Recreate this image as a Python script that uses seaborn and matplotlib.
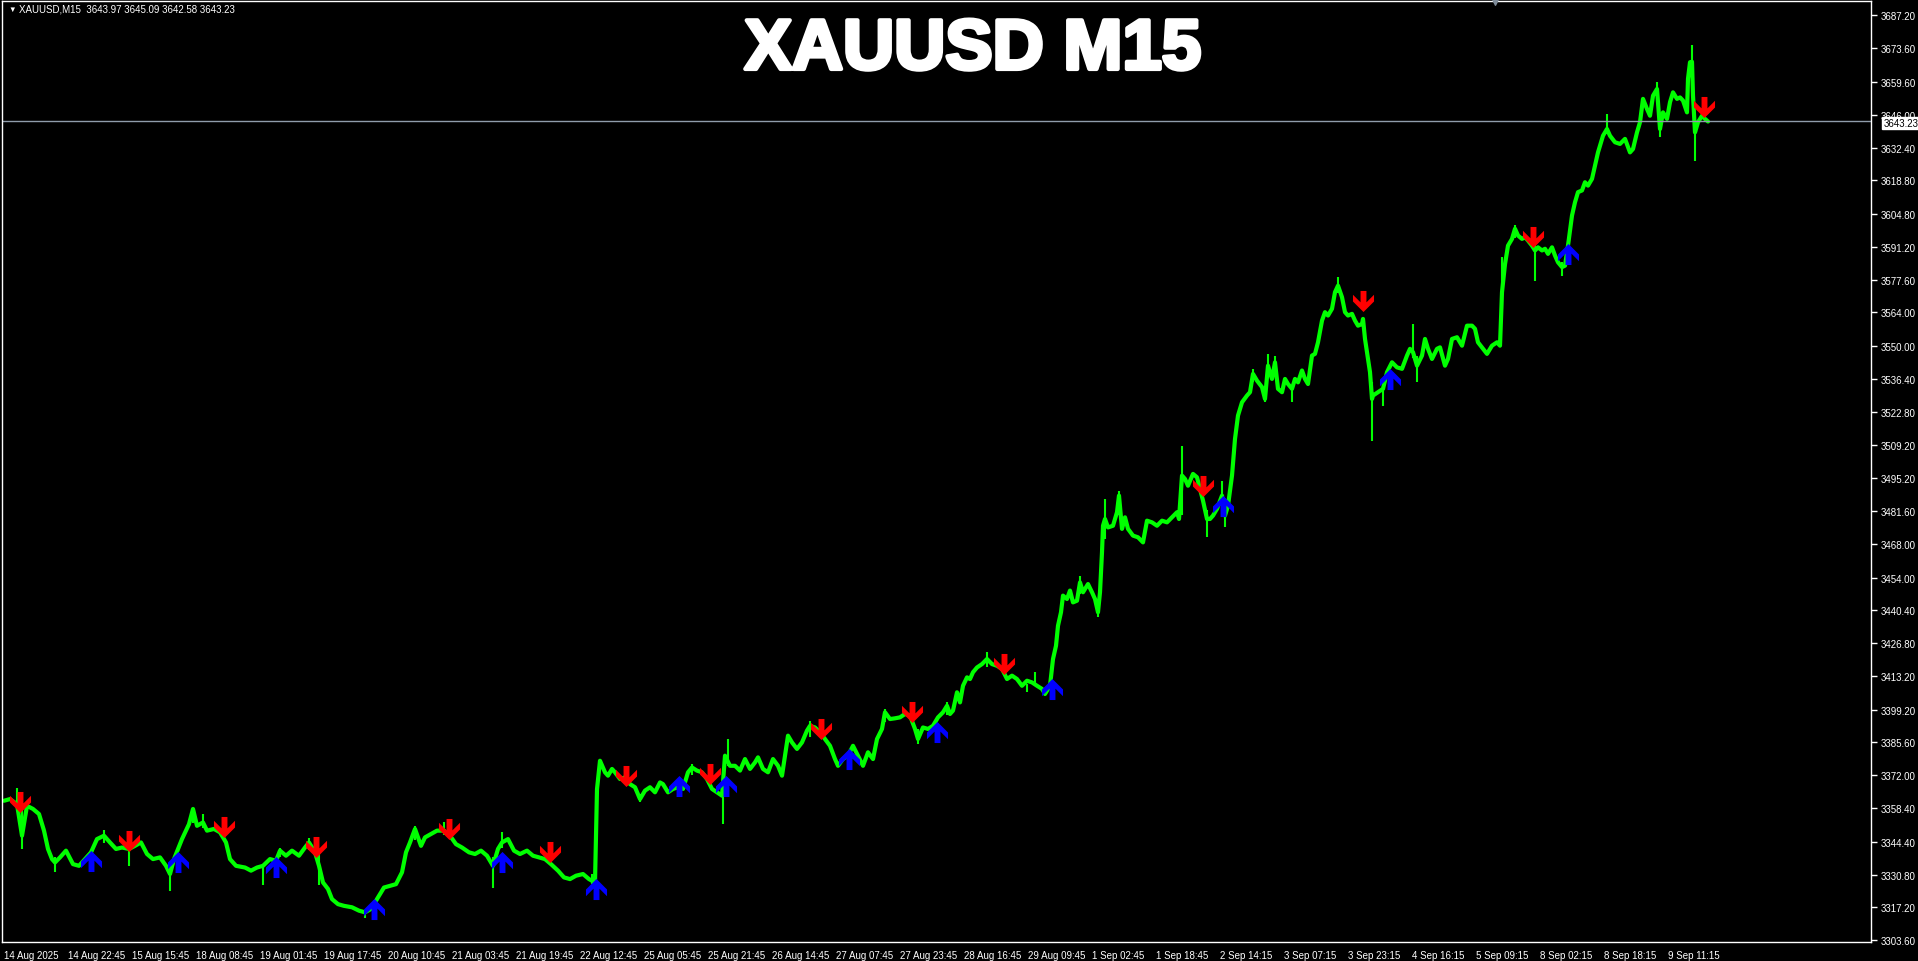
import matplotlib
matplotlib.use("Agg")
import matplotlib.pyplot as plt
import matplotlib.patheffects as pe
from matplotlib.path import Path
import seaborn as sns

# M15 bar number (counted from the left edge of the chart) and price
bars = [0, 6, 13, 18, 23, 29, 35, 40, 44, 48, 51, 56, 62, 69, 75, 81, 87, 93, 100, 106,
        112, 118, 125, 131, 137, 143, 149, 156, 162, 166, 170, 174, 178, 185, 189, 193, 199, 203, 210, 216,
        222, 226, 232, 241, 247, 253, 259, 266, 272, 276, 282, 288, 295, 301, 305, 311, 315, 319, 324, 328,
        334, 340, 348, 355, 361, 367, 373, 380, 386, 392, 398, 402, 406, 411, 417, 421, 427, 433, 440, 446,
        452, 458, 465, 471, 477, 483, 489, 494, 498, 504, 510, 516, 523, 529, 535, 541, 547, 554, 560, 566,
        572, 579, 585, 591, 593, 596, 601, 604, 608, 611, 616, 621, 626, 631, 636, 641, 646, 651, 656, 659,
        664, 669, 674, 679, 684, 688, 693, 698, 703, 708, 713, 718, 721, 726, 731, 736, 741, 746, 751, 754,
        759, 764, 769, 774, 778, 781, 784, 788, 793, 798, 803, 806, 811, 816, 821, 826, 831, 834, 839, 844,
        849, 854, 859, 864, 869, 873, 878, 881, 886, 891, 896, 901, 906, 911, 914, 919, 924, 929, 934, 939,
        943, 946, 949, 953, 956, 959, 963, 966, 969, 973, 978, 983, 988, 993, 998, 1003, 1008, 1013, 1018, 1023,
        1028, 1033, 1038, 1041, 1046, 1049, 1052, 1054, 1057, 1059, 1063, 1066, 1069, 1073, 1076, 1079, 1084, 1088, 1091, 1094,
        1096, 1098, 1099, 1101, 1104, 1109, 1113, 1115, 1118, 1121, 1124, 1129, 1134, 1139, 1143, 1148, 1153, 1158, 1163, 1168,
        1173, 1175, 1178, 1181, 1184, 1189, 1193, 1196, 1199, 1203, 1206, 1209, 1213, 1218, 1221, 1224, 1228, 1231, 1234, 1238,
        1243, 1246, 1249, 1253, 1258, 1261, 1264, 1268, 1271, 1274, 1278, 1281, 1284, 1288, 1291, 1294, 1298, 1301, 1304, 1308,
        1311, 1314, 1318, 1321, 1324, 1328, 1331, 1334, 1338, 1341, 1344, 1348, 1351, 1354, 1358, 1359, 1361, 1364, 1366, 1368,
        1369, 1374, 1379, 1383, 1388, 1393, 1398, 1403, 1406, 1409, 1413, 1418, 1421, 1424, 1428, 1433, 1436, 1441, 1444, 1448,
        1453, 1458, 1463, 1468, 1471, 1474, 1479, 1483, 1488, 1493, 1496, 1498, 1501, 1504, 1508, 1511, 1514, 1518, 1521, 1524,
        1528, 1531, 1534, 1538, 1541, 1544, 1548, 1551, 1554, 1558, 1561, 1564, 1568, 1571, 1574, 1578, 1581, 1584, 1588, 1591,
        1594, 1596, 1599, 1603, 1606, 1611, 1616, 1621, 1626, 1629, 1633, 1636, 1639, 1643, 1646, 1649, 1653, 1656, 1659, 1663,
        1666, 1669, 1673, 1676, 1679, 1683, 1684, 1686, 1688, 1689, 1691, 1694, 1698, 1701, 1704]
close = [3361.4, 3362.1, 3360.0, 3346.9, 3359.3, 3358.0, 3355.9, 3349.0, 3341.4, 3337.2, 3335.8, 3337.9, 3340.7, 3335.1, 3334.4, 3337.2, 3340.0, 3345.5, 3346.9, 3344.1,
         3341.4, 3342.0, 3341.4, 3342.7, 3344.1, 3339.3, 3337.2, 3337.9, 3334.4, 3331.0, 3337.2, 3341.4, 3345.5, 3351.7, 3358.0, 3351.0, 3352.4, 3349.0, 3349.7, 3348.3,
         3344.1, 3337.2, 3334.4, 3333.7, 3332.4, 3333.7, 3334.4, 3337.2, 3336.5, 3340.7, 3338.6, 3340.7, 3338.6, 3342.0, 3344.1, 3340.0, 3334.4, 3327.5, 3324.8, 3320.6,
         3318.5, 3317.8, 3317.2, 3315.8, 3315.1, 3316.5, 3320.6, 3325.4, 3326.1, 3326.8, 3331.7, 3340.0, 3344.1, 3349.7, 3342.7, 3346.2, 3347.6, 3349.0, 3349.0, 3346.9,
         3343.4, 3342.0, 3340.0, 3339.3, 3340.7, 3338.6, 3334.4, 3341.4, 3344.1, 3345.5, 3340.7, 3339.3, 3340.7, 3338.6, 3337.9, 3337.2, 3335.1, 3332.4, 3329.6, 3328.9,
         3330.3, 3331.0, 3328.9, 3327.5, 3366.2, 3378.0, 3373.2, 3371.8, 3374.6, 3373.2, 3370.4, 3371.1, 3368.3, 3367.0, 3362.1, 3365.6, 3367.0, 3364.9, 3369.0, 3368.3,
         3364.9, 3366.3, 3367.0, 3366.3, 3373.2, 3375.2, 3373.9, 3373.2, 3370.4, 3366.3, 3364.9, 3363.5, 3380.1, 3375.9, 3375.9, 3373.9, 3378.7, 3374.6, 3377.3, 3379.4,
         3374.6, 3373.2, 3378.7, 3375.9, 3371.8, 3380.1, 3388.4, 3385.6, 3382.9, 3385.6, 3390.5, 3392.5, 3391.8, 3389.8, 3387.0, 3384.2, 3378.7, 3375.9, 3378.7, 3380.1,
         3384.2, 3380.1, 3375.9, 3381.5, 3378.7, 3387.0, 3391.2, 3398.1, 3395.3, 3395.6, 3396.0, 3397.4, 3396.7, 3391.2, 3387.0, 3391.8, 3391.2, 3392.5, 3396.0, 3398.1,
         3400.8, 3397.4, 3398.8, 3406.4, 3402.2, 3409.1, 3412.6, 3411.9, 3414.7, 3416.7, 3418.1, 3420.2, 3418.1, 3417.4, 3416.1, 3411.9, 3413.3, 3411.9, 3409.1, 3411.2,
         3410.5, 3409.1, 3407.8, 3405.7, 3409.1, 3420.2, 3425.7, 3434.0, 3439.6, 3446.5, 3445.1, 3448.6, 3443.7, 3444.4, 3452.0, 3447.9, 3451.3, 3447.9, 3445.1, 3439.6,
         3447.9, 3464.5, 3475.5, 3478.3, 3474.8, 3475.5, 3481.1, 3488.0, 3474.2, 3479.0, 3474.2, 3471.4, 3470.7, 3468.6, 3477.6, 3476.9, 3475.5, 3477.6, 3476.9, 3479.0,
         3481.1, 3478.3, 3496.3, 3494.9, 3492.1, 3497.0, 3495.6, 3490.8, 3485.9, 3478.3, 3478.3, 3479.7, 3482.5, 3488.0, 3479.7, 3483.8, 3496.3, 3511.5, 3521.2, 3526.7,
         3529.5, 3530.9, 3538.5, 3535.7, 3533.0, 3528.1, 3541.9, 3536.4, 3543.3, 3532.3, 3530.9, 3536.4, 3534.3, 3532.3, 3536.4, 3535.0, 3539.9, 3536.4, 3534.3, 3546.1,
         3546.8, 3551.6, 3560.6, 3564.1, 3562.7, 3565.5, 3572.4, 3575.1, 3570.3, 3564.1, 3562.7, 3563.4, 3560.6, 3558.5, 3559.2, 3561.3, 3553.0, 3544.7, 3539.2, 3528.1,
         3529.5, 3530.9, 3532.3, 3539.2, 3543.3, 3541.2, 3540.6, 3546.1, 3548.9, 3547.5, 3541.9, 3546.1, 3553.0, 3548.9, 3544.7, 3548.9, 3549.5, 3541.9, 3544.7, 3553.0,
         3553.7, 3550.2, 3558.5, 3558.5, 3557.2, 3551.6, 3548.9, 3546.8, 3550.2, 3551.6, 3550.2, 3572.4, 3584.0, 3591.7, 3594.5, 3598.7, 3595.9, 3594.5, 3595.2, 3593.8,
         3591.7, 3589.7, 3591.0, 3589.7, 3590.4, 3588.3, 3591.0, 3587.6, 3584.8, 3582.8, 3583.4, 3591.7, 3604.2, 3609.7, 3613.9, 3614.6, 3618.0, 3616.6, 3619.4, 3624.9,
         3630.4, 3633.2, 3637.3, 3640.1, 3637.3, 3634.6, 3633.9, 3636.0, 3630.4, 3631.8, 3638.7, 3642.9, 3652.6, 3648.4, 3645.6, 3653.9, 3656.7, 3640.1, 3647.0, 3644.3,
         3651.2, 3655.3, 3652.6, 3653.2, 3651.9, 3647.0, 3660.9, 3667.8, 3668.0, 3653.9, 3638.7, 3642.9, 3645.6, 3644.3, 3643.2]

# single-bar spikes: bar number, high, low
wick_bars = [13, 18, 51, 100, 125, 166, 189, 199, 259, 276, 305, 315, 361, 411, 440, 489, 498, 588, 636,
             688, 719, 724, 806, 881, 914, 943, 983, 1023, 1031, 1076, 1094, 1101, 1115, 1178, 1203, 1218, 1221,
             1249, 1261, 1264, 1271, 1288, 1334, 1368, 1379, 1409, 1413, 1498, 1511, 1531, 1558,
             1603, 1653, 1656, 1688, 1691]
wick_high = [3366.5, 3358.0, 3338.0, 3349.4, 3342.0, 3334.0, 3358.6, 3355.9, 3335.0, 3342.0, 3345.8, 3340.0, 3316.0, 3351.0, 3352.4, 3338.0, 3348.5, 3331.0, 3364.0,
             3376.5, 3366.0, 3387.0, 3394.6, 3399.5, 3391.0, 3402.2, 3423.2, 3410.0, 3414.7, 3454.8, 3441.0, 3486.6, 3490.1, 3508.7, 3482.0, 3494.2, 3482.0,
             3540.6, 3530.0, 3546.8, 3546.1, 3534.0, 3578.6, 3535.0, 3534.0, 3559.2, 3546.0, 3586.9, 3600.1, 3592.0, 3585.0,
             3646.3, 3659.5, 3641.0, 3675.0, 3642.0]
wick_low = [3358.0, 3341.5, 3331.7, 3344.0, 3334.4, 3324.1, 3352.0, 3350.0, 3326.4, 3338.0, 3341.0, 3326.4, 3312.6, 3345.0, 3347.0, 3325.4, 3342.0, 3326.8, 3360.7,
            3372.0, 3351.7, 3376.0, 3388.0, 3394.0, 3384.9, 3397.0, 3417.0, 3406.4, 3409.0, 3447.0, 3437.5, 3470.0, 3480.0, 3480.0, 3470.7, 3480.0, 3474.8,
            3535.0, 3526.7, 3538.0, 3538.0, 3526.7, 3572.0, 3510.8, 3525.3, 3545.0, 3535.3, 3565.5, 3595.0, 3577.2, 3579.3,
            3638.0, 3654.0, 3636.6, 3660.0, 3627.0]

# signal arrows (red = sell, above price; blue = buy, below price)
sell_bars = [16, 125, 220, 312, 445, 546, 622, 706, 817, 908, 1000, 1199, 1359, 1529, 1700]
sell_price = [3360.7, 3344.8, 3350.4, 3342.1, 3349.6, 3340.0, 3371.6, 3372.5, 3391.1, 3398.1, 3418.1, 3492.1, 3568.9, 3595.2, 3649.1]
buy_bars = [87, 174, 272, 370, 498, 592, 675, 722, 845, 933, 1048, 1219, 1386, 1564]
buy_price = [3336.5, 3335.8, 3333.8, 3316.5, 3335.8, 3324.8, 3367.6, 3367.6, 3378.7, 3389.8, 3407.7, 3483.8, 3536.4, 3588.2]

price_ticks = [3303.6, 3317.2, 3330.8, 3344.4, 3358.4, 3372.0, 3385.6, 3399.2, 3413.2, 3426.8, 3440.4,
               3454.0, 3468.0, 3481.6, 3495.2, 3509.2, 3522.8, 3536.4, 3550.0, 3564.0, 3577.6, 3591.2,
               3604.8, 3618.8, 3632.4, 3646.0, 3659.6, 3673.6, 3687.2]
time_labels = ["14 Aug 2025", "14 Aug 22:45", "15 Aug 15:45", "18 Aug 08:45", "19 Aug 01:45", "19 Aug 17:45",
               "20 Aug 10:45", "21 Aug 03:45", "21 Aug 19:45", "22 Aug 12:45", "25 Aug 05:45", "25 Aug 21:45",
               "26 Aug 14:45", "27 Aug 07:45", "27 Aug 23:45", "28 Aug 16:45", "29 Aug 09:45", "1 Sep 02:45",
               "1 Sep 18:45", "2 Sep 14:15", "3 Sep 07:15", "3 Sep 23:15", "4 Sep 16:15", "5 Sep 09:15",
               "8 Sep 02:15", "8 Sep 18:15", "9 Sep 11:15"]
bars_per_label = 64
last_price = 3643.23
ohlc_text = "XAUUSD,M15  3643.97 3645.09 3642.58 3643.23"

GREEN = "#00ff00"
FONT = ["Liberation Sans", "DejaVu Sans"]

sns.set_style("dark", {"axes.facecolor": "black", "figure.facecolor": "black"})
plt.rcParams["font.family"] = FONT

fig = plt.figure(figsize=(19.18, 9.62), dpi=100)
W, H = 1918, 962
ax = fig.add_axes([2 / W, 19 / H, 1869 / W, 941 / H])
ax.set_facecolor("black")

# price line and spikes
sns.lineplot(x=bars, y=close, ax=ax, color=GREEN, linewidth=3.0, estimator=None, sort=False)
ax.vlines(wick_bars, wick_low, wick_high, color=GREEN, linewidth=1.5)

# bid line
ax.axhline(last_price, color="#8f9cab", linewidth=1)

# arrow markers (thick shaft + chevron head)
down = Path([(-0.14, 0.5), (0.14, 0.5), (0.14, -0.04), (0.5, 0.32), (0.5, 0.0), (0.0, -0.5),
             (-0.5, 0.0), (-0.5, 0.32), (-0.14, -0.04), (-0.14, 0.5)])
up = Path([(x, -y) for x, y in down.vertices])
sns.scatterplot(x=sell_bars, y=sell_price, ax=ax, marker=down, s=230, color="#ff0000", linewidth=0, zorder=5)
sns.scatterplot(x=buy_bars, y=buy_price, ax=ax, marker=up, s=230, color="#0000ff", linewidth=0, zorder=5)

ax.set_xlim(-2, 1867)
ax.set_ylim(3302.8, 3693.2)

# axes like the terminal window
for sp in ax.spines.values():
    sp.set_visible(True)
    sp.set_color("white")
    sp.set_linewidth(1)
ax.grid(False)
ax.yaxis.tick_right()
ax.set_yticks(price_ticks)
ax.set_yticklabels([f"{v:.2f}" for v in price_ticks])
ax.set_xticks([i * bars_per_label for i in range(len(time_labels))])
ax.set_xticklabels(time_labels, ha="left")
ax.tick_params(axis="both", colors="white", labelcolor="white", labelsize=7, length=4, width=1,
               direction="out")
ax.tick_params(axis="y", pad=3)
ax.tick_params(axis="x", pad=2)
ax.set_xlabel("")
ax.set_ylabel("")

# current price tag on the price scale (drawn over the 3646.00 label, as in the terminal)
ax.annotate(f"{last_price:.2f}", xy=(1.0, last_price), xycoords=("axes fraction", "data"),
            xytext=(9, -1), textcoords="offset points", va="center", ha="left",
            fontsize=7, color="black", zorder=10,
            bbox=dict(boxstyle="square,pad=0.12", facecolor="white", edgecolor="white"))

# chart shift marker at the top
ax.scatter([1491], [3693.2], marker="v", s=30, color="#7f8c99", clip_on=False, zorder=6)

# header texts
fig.text(8 / W, 1 - 10 / H, "\u25bc", color="white", fontsize=5.5, va="center", ha="left")
fig.text(19 / W, 1 - 10 / H, ohlc_text, color="white", fontsize=7, va="center", ha="left")
fig.text(973 / W, 1 - 52 / H, "XAUUSD M15", color="white", fontsize=51, fontweight="bold",
         va="center", ha="center",
         path_effects=[pe.withStroke(linewidth=3, foreground="white")])

fig.savefig("out.png", dpi=100, facecolor="black")
